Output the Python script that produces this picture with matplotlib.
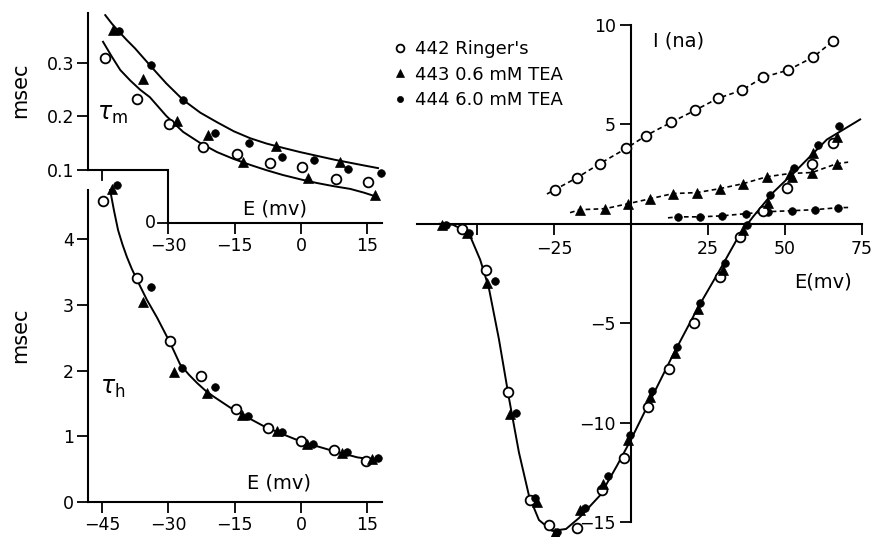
import numpy as np
import matplotlib
matplotlib.use("Agg")
import matplotlib.pyplot as plt

plt.rcParams['font.family'] = ['DejaVu Sans']

# ---------------- data ----------------
# tau_m panel (E in mV, tau in msec)
tm_E_442 = [-44.3, -37.1, -29.9, -22.2, -14.5, -7.0, 0.2, 7.9, 15.2]
tm_v_442 = [0.310, 0.233, 0.186, 0.143, 0.129, 0.112, 0.105, 0.083, 0.077]
tm_E_443 = [-42.5, -35.7, -28.1, -21.0, -13.1, -5.7, 1.6, 8.8, 16.7]
tm_v_443 = [0.362, 0.270, 0.191, 0.165, 0.115, 0.145, 0.084, 0.114, 0.053]
tm_E_444 = [-41.2, -33.9, -26.7, -19.5, -11.8, -4.3, 2.9, 10.6, 18.1]
tm_v_444 = [0.360, 0.296, 0.231, 0.169, 0.150, 0.124, 0.118, 0.101, 0.094]
tm_upper_E = [-44.3, -42.8, -41.2, -39.4, -37.6, -34.2, -30.5, -26.7, -22.8, -19.0,
              -15.2, -11.5, -7.8, -4.1, -0.2, 3.6, 7.4, 11.1, 14.2, 17.4]
tm_upper_v = [0.390, 0.374, 0.359, 0.343, 0.328, 0.296, 0.262, 0.231, 0.207, 0.189,
              0.172, 0.159, 0.149, 0.141, 0.133, 0.126, 0.119, 0.113, 0.108, 0.103]
tm_lower_E = [-44.8, -42.8, -40.9, -38.6, -36.4, -34.2, -30.5, -26.7, -22.8, -19.0,
              -15.2, -11.5, -7.8, -4.1, -0.2, 3.6, 7.4, 11.1, 14.2, 17.2]
tm_lower_v = [0.340, 0.312, 0.287, 0.267, 0.250, 0.236, 0.201, 0.171, 0.150, 0.133,
              0.120, 0.109, 0.099, 0.090, 0.082, 0.075, 0.069, 0.064, 0.057, 0.049]

# tau_h panel
th_E_442 = [-44.8, -37.1, -29.6, -22.6, -14.7, -7.5, 0.0, 7.5, 14.7]
th_v_442 = [4.59, 3.41, 2.45, 1.92, 1.41, 1.13, 0.93, 0.79, 0.62]
th_E_443 = [-42.8, -35.7, -28.7, -21.3, -13.3, -5.4, 1.4, 9.3, 16.1]
th_v_443 = [4.77, 3.04, 1.98, 1.66, 1.32, 1.08, 0.89, 0.75, 0.65]
th_E_444 = [-41.6, -33.9, -27.0, -19.5, -12.0, -4.3, 2.7, 10.4, 17.4]
th_v_444 = [4.82, 3.27, 2.04, 1.75, 1.31, 1.06, 0.89, 0.76, 0.67]
th_curve_E = [-43.2, -42.3, -41.4, -40.4, -39.4, -38.3, -37.1, -34.9, -32.6, -29.6, -27.4,
              -25.4, -23.5, -21.7, -19.9, -16.1, -12.2, -8.6, -4.8, 0.0, 6.6, 12.7, 17.9]
th_curve_v = [4.75, 4.43, 4.14, 3.92, 3.73, 3.55, 3.38, 3.08, 2.81, 2.42, 2.10,
              1.94, 1.81, 1.70, 1.61, 1.44, 1.29, 1.16, 1.05, 0.92, 0.79, 0.68, 0.63]

# I-V panel: peak currents (na)
iv_E_442 = [-55.0, -47.1, -40.0, -32.8, -26.6, -17.5, -9.4, -2.3, 5.5, 12.3, 20.5,
            28.9, 35.4, 42.9, 50.6, 58.8, 65.6]
iv_I_442 = [-0.25, -2.32, -8.48, -13.9, -15.15, -15.3, -13.4, -11.8, -9.2, -7.3, -5.0,
            -2.67, -0.66, 0.66, 1.82, 3.03, 4.04]
iv_E_443 = [-61.4, -53.4, -46.8, -39.3, -30.5, -24.7, -16.6, -9.1, -1.0, 6.2, 14.3,
            21.8, 29.9, 36.4, 44.5, 52.3, 59.1, 66.9]
iv_I_443 = [-0.05, -0.45, -2.96, -9.55, -14.0, -15.55, -14.4, -13.1, -10.9, -8.7, -6.5,
            -4.3, -2.32, -0.30, 1.06, 2.37, 3.58, 4.39]
iv_E_444 = [-60.0, -52.5, -44.2, -37.3, -31.2, -24.0, -14.9, -7.5, -0.3, 6.8, 14.9,
            22.4, 30.5, 37.6, 45.1, 52.9, 60.7, 67.5]
iv_I_444 = [-0.05, -0.45, -2.88, -9.5, -13.8, -15.5, -14.3, -12.7, -10.6, -8.4, -6.2,
            -4.0, -1.97, -0.05, 1.46, 2.83, 3.94, 4.90]
iv_curve_E = [-62.0, -57.8, -54.5, -52.3, -49.0, -46.2, -42.9, -39.6, -36.4, -33.1,
              -29.9, -25.6, -21.1, -16.9, -10.0, -4.5, 0.0, 6.2, 13.6, 21.8, 28.9,
              35.4, 39.6, 46.1, 54.9, 63.6, 74.4]
iv_curve_I = [0.0, -0.05, -0.3, -0.6, -1.8, -3.2, -5.8, -8.8, -11.5, -13.7,
              -14.9, -15.45, -15.35, -14.8, -13.65, -12.15, -10.85, -8.9, -6.6, -4.2, -2.3,
              -0.5, 0.35, 1.57, 2.88, 4.24, 5.25]

# leak (steady) currents, dashed lines
lk_E_442 = [-24.7, -17.5, -10.1, -1.6, 4.9, 13.0, 20.8, 28.2, 36.0, 42.9, 51.0, 59.1, 65.6]
lk_I_442 = [1.72, 2.32, 3.03, 3.79, 4.44, 5.10, 5.71, 6.31, 6.72, 7.37, 7.73, 8.38, 9.19]
lk_E_443 = [-16.6, -8.4, -1.0, 6.2, 13.6, 21.4, 28.9, 36.4, 44.2, 51.6, 58.8, 66.9]
lk_I_443 = [0.71, 0.76, 1.01, 1.26, 1.52, 1.57, 1.77, 2.02, 2.37, 2.53, 2.58, 3.03]
lk_E_444 = [15.3, 22.4, 29.5, 37.3, 44.5, 52.3, 59.7, 67.2]
lk_I_444 = [0.35, 0.35, 0.40, 0.51, 0.61, 0.66, 0.71, 0.81]
lk_line_E_442 = [-27.3] + lk_E_442
lk_line_I_442 = [1.50] + lk_I_442
lk_line_E_443 = [-19.8] + lk_E_443 + [70.5]
lk_line_I_443 = [0.56] + lk_I_443 + [3.10]
lk_line_E_444 = [12.0] + lk_E_444 + [70.5]
lk_line_I_444 = [0.30] + lk_I_444 + [0.82]

legend_labels = ["442 Ringer's", "443 0.6 mM TEA", "444 6.0 mM TEA"]

# ---------------- styles ----------------
W, H = 878, 537
fig = plt.figure(figsize=(W / 100, H / 100), dpi=100)
LW = 1.5
FS = 12.5
st_442 = dict(marker='o', ms=7, mfc='white', mec='black', mew=1.3, ls='none', clip_on=False, zorder=4)
st_443 = dict(marker='^', ms=7.5, mfc='black', mec='black', mew=0.5, ls='none', clip_on=False, zorder=4)
st_444 = dict(marker='o', ms=5.5, mfc='black', mec='black', mew=0.5, ls='none', clip_on=False, zorder=4)


def add_ax_px(x0, x1, ytop, ybot):
    a = fig.add_axes([x0 / W, 1 - ybot / H, (x1 - x0) / W, (ybot - ytop) / H])
    a.patch.set_alpha(0)
    return a


def style_ax(a):
    for s in ['top', 'right']:
        a.spines[s].set_visible(False)
    for s in ['left', 'bottom']:
        a.spines[s].set_linewidth(LW)
    a.tick_params(direction='out', length=8, width=1.3, labelsize=FS, pad=2)


# ---------- tau_h panel ----------
ah = add_ax_px(88, 382, 190, 502)
style_ax(ah)
ah.set_xlim(-48.2, 18.3)
ah.set_ylim(0, 4.75)
ah.set_xticks([-45, -30, -15, 0, 15])
ah.set_yticks([0, 1, 2, 3, 4])
ah.plot(th_curve_E, th_curve_v, color='black', lw=1.4, clip_on=False)
ah.plot(th_E_442, th_v_442, **st_442)
ah.plot(th_E_443, th_v_443, **st_443)
ah.plot(th_E_444, th_v_444, **st_444)
ah.text(-5.0, 0.29, 'E (mv)', fontsize=14, ha='center', va='center')
ah.text(-45.5, 1.73, r'$\tau_{\mathrm{h}}$', fontsize=17, ha='left', va='center')

# ---------- tau_m panel ----------
am = add_ax_px(88, 382, 13, 223)
style_ax(am)
am.set_xlim(-48.2, 18.3)
am.set_ylim(0, 0.394)
am.spines['left'].set_bounds(0.1, 0.394)
am.spines['bottom'].set_bounds(-30, 18.3)
am.set_xticks([-30, -15, 0, 15])
am.set_yticks([0.1, 0.2, 0.3])
am.set_yticklabels(['0.1', '0.2', '0.3'])
am.plot([-48.2, -30, -30], [0.1, 0.1, 0], color='black', lw=LW, clip_on=False,
        solid_joinstyle='miter')
am.plot([-45, -45], [0.1, 0.1 - 10 / 533], color='black', lw=1.3, clip_on=False)
am.plot([-30 - 10 / 4.42, -30], [0, 0], color='black', lw=1.3, clip_on=False)
am.text(-30 - 13 / 4.42, 0, '0', fontsize=FS, ha='right', va='center')
am.plot(tm_upper_E, tm_upper_v, color='black', lw=1.4, clip_on=False)
am.plot(tm_lower_E, tm_lower_v, color='black', lw=1.4, clip_on=False)
am.plot(tm_E_442, tm_v_442, **st_442)
am.plot(tm_E_443, tm_v_443, **st_443)
am.plot(tm_E_444, tm_v_444, **st_444)
am.text(-5.9, 0.026, 'E (mv)', fontsize=14, ha='center', va='center')
am.text(-46.2, 0.205, r'$\tau_{\mathrm{m}}$', fontsize=17, ha='left', va='center')

fig.text(20 / W, 1 - 90 / H, 'msec', rotation=90, fontsize=15, ha='center', va='center')
fig.text(20 / W, 1 - 335 / H, 'msec', rotation=90, fontsize=15, ha='center', va='center')

# ---------- I-V panel ----------
ar = add_ax_px(417, 862, 25, 522)
style_ax(ar)
ar.set_xlim(-69.5, 75)
ar.set_ylim(-15, 10)
ar.spines['left'].set_position(('data', 0))
ar.spines['bottom'].set_position(('data', 0))
ar.set_xticks([-50, -25, 25, 50, 75])
ar.set_xticklabels(['', '\u221225', '25', '50', '75'])
ar.set_yticks([-15, -10, -5, 5, 10])
ar.set_yticklabels(['\u221215', '\u221210', '\u22125', '5', '10'])
ar.tick_params(axis='x', pad=4)
ar.tick_params(axis='y', pad=3)

dash = (0, (2.8, 2.0))
ar.plot(lk_line_E_442, lk_line_I_442, color='black', lw=1.2, ls=dash, clip_on=False)
ar.plot(lk_line_E_443, lk_line_I_443, color='black', lw=1.2, ls=dash, clip_on=False)
ar.plot(lk_line_E_444, lk_line_I_444, color='black', lw=1.2, ls=dash, clip_on=False)
ar.plot(lk_E_442, lk_I_442, **st_442)
ar.plot(lk_E_443, lk_I_443, **st_443)
ar.plot(lk_E_444, lk_I_444, **st_444)

ar.plot(iv_curve_E, iv_curve_I, color='black', lw=1.4, clip_on=False)
h1, = ar.plot(iv_E_442, iv_I_442, **st_442)
h2, = ar.plot(iv_E_443, iv_I_443, **st_443)
h3, = ar.plot(iv_E_444, iv_I_444, **st_444)

ar.text(15.3, 9.2, 'I (na)', fontsize=14, ha='center', va='center')
ar.text(62.3, -2.93, 'E(mv)', fontsize=14, ha='center', va='center')

leg = fig.legend([h1, h2, h3], legend_labels, loc='upper left',
                 bbox_to_anchor=(391 / W, 1 - 40 / H), bbox_transform=fig.transFigure,
                 frameon=False, fontsize=13, handlelength=1.0, handletextpad=0.35,
                 labelspacing=0.42, borderpad=0, borderaxespad=0, markerscale=0.8)

fig.savefig('out.png', dpi=100, facecolor='white')
